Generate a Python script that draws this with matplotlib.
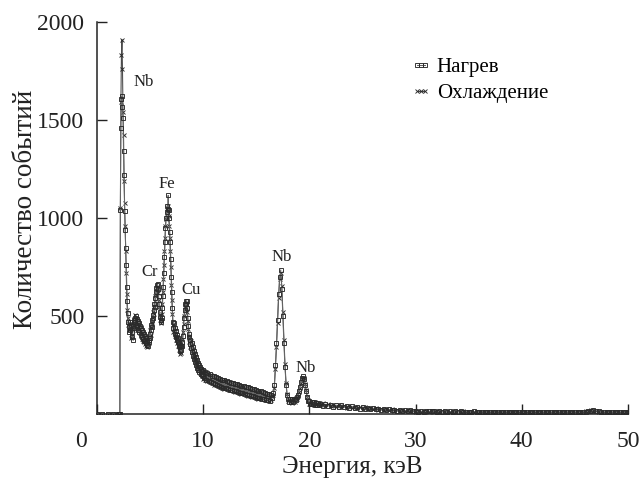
import numpy as np
import matplotlib
matplotlib.use("Agg")
import matplotlib.pyplot as plt
import matplotlib.transforms as mtransforms

plt.rcParams['font.family'] = ['Liberation Serif', 'DejaVu Serif']

# ---------------- data ----------------
series_names = ["Нагрев", "Охлаждение"]

baseline_energy = [0.0, 0.5, 1.0, 1.5, 2.0]
baseline_counts = [0, 0, 0, 0, 0]

# segment A: 2.10 keV, step 0.05 keV
segA_start, segA_step = 2.10, 0.05
heating_A = [
    0, 0, 1040, 1460, 1605, 1620, 1565, 1510, 1340, 1220,
    1035, 940, 845, 760, 650, 575, 515, 470, 445, 420,
    470, 430, 455, 395, 420, 380, 450, 480, 440, 490,
    470, 500, 455, 485, 445, 475, 430, 465, 420, 450,
    405, 440, 395, 430, 385, 420, 375, 410, 370, 400,
    360, 390, 350, 375, 345, 380, 365, 410, 390, 430,
    455, 445, 480, 505, 490, 530, 560, 545, 590, 620,
    645, 660, 665, 640, 600, 560, 520, 495, 480, 470,
    490, 540, 600, 650, 720, 800, 880, 950, 1000, 1030,
    1060, 1045, 1115, 1040, 1000, 930, 880, 790, 700, 620,
    540, 470, 440, 465, 410, 440, 395, 425, 380, 405,
    365, 390, 345, 360, 320, 350, 325, 345, 345, 365,
    400, 445, 490, 530, 560, 575, 560, 578, 540, 490,
    450, 410, 395, 355, 380, 335, 360, 315, 340, 295,
    320, 280, 305, 265, 290, 250, 275, 235, 260, 225,
    248, 215, 238, 205, 228, 198, 218, 192,
]
cooling_A = [
    0, 0, 1050, 1590, 1830, 1910, 1760, 1540, 1425, 1190,
    1075, 960, 830, 720, 610, 530, 490, 455, 430, 460,
    435, 455, 390, 440, 400, 460, 430, 485, 455, 470,
    505, 460, 490, 450, 480, 435, 470, 425, 460, 415,
    445, 400, 425, 385, 415, 375, 405, 365, 395, 355,
    385, 345, 370, 340, 375, 395, 360, 400, 430, 405,
    445, 470, 460, 490, 520, 510, 550, 575, 600, 610,
    635, 650, 640, 615, 580, 545, 505, 480, 465, 480,
    510, 560, 620, 690, 760, 830, 900, 960, 995, 1020,
    1050, 1060, 1040, 1010, 960, 900, 830, 750, 660, 580,
    510, 455, 420, 440, 400, 430, 380, 410, 360, 390,
    345, 375, 325, 355, 305, 340, 310, 345, 350, 380,
    420, 460, 500, 530, 550, 560, 545, 555, 520, 475,
    435, 400, 365, 375, 340, 370, 320, 350, 300, 330,
    285, 310, 270, 295, 255, 280, 242, 268, 230, 255,
    220, 242, 210, 232, 202, 222, 195, 212,
]

# segment B: 10.0 keV, step 0.1 keV
segB_start, segB_step = 10.0, 0.1
heating_B = [
    222, 182, 215, 175, 208, 168, 202, 162, 196, 158,
    192, 152, 187, 148, 182, 143, 178, 139, 174, 135,
    171, 132, 167, 128, 164, 125, 160, 122, 157, 118,
    155, 115, 151, 112, 148, 109, 144, 106, 141, 102,
    139, 99, 136, 96, 132, 93, 129, 90, 126, 86,
    123, 84, 119, 81, 116, 78, 112, 75, 108, 72,
    104, 70, 100, 68, 96, 84, 105, 150, 250, 360,
    480, 610, 700, 735, 640, 500, 360, 240, 150, 95,
    75, 62, 78, 60, 74, 61, 76, 70, 86, 95,
    115, 140, 165, 182, 192, 180, 150, 115, 85, 68,
    64, 52, 62, 49, 59, 47, 58, 46, 56, 45,
]
cooling_B = [
    180, 220, 174, 212, 168, 205, 162, 200, 156, 194,
    150, 190, 146, 185, 141, 180, 137, 176, 133, 172,
    130, 168, 126, 165, 123, 161, 120, 158, 116, 155,
    113, 152, 110, 149, 107, 145, 104, 142, 100, 139,
    97, 136, 94, 133, 91, 129, 88, 126, 85, 122,
    82, 119, 79, 115, 76, 112, 74, 108, 71, 104,
    69, 100, 67, 96, 70, 90, 98, 135, 230, 340,
    465, 590, 690, 720, 655, 520, 380, 255, 160, 100,
    66, 76, 60, 75, 58, 76, 63, 80, 76, 92,
    110, 135, 160, 178, 186, 184, 155, 120, 88, 70,
    52, 63, 50, 60, 48, 59, 46, 57, 45, 55,
]

# segment C: 21.0 keV, step 0.25 keV
segC_start, segC_step = 21.0, 0.25
heating_C = [
    52, 42, 50, 40, 48, 38, 46, 36, 44, 35,
    41, 32, 39, 30, 37, 28, 35, 27, 33, 25,
    30, 23, 28, 21, 26, 19, 24, 18, 22, 16,
    20, 15, 19, 14, 18, 13, 16, 12, 15, 12,
    13, 15, 13, 14, 12, 14, 12, 13, 12, 13,
    11, 13, 12, 16, 12, 11, 12, 11, 13, 11,
    12, 10, 12, 11, 10, 12, 10, 11, 10, 12,
    10, 11, 10, 11, 9, 11, 10, 9, 11, 10,
    9, 11, 10, 9, 10, 9, 11, 9, 10, 9,
    10, 9, 10, 9, 10, 9, 10, 9, 10, 11,
    12, 15, 17, 18, 16, 13, 11, 10, 9, 10,
    9, 10, 9, 10, 9, 10, 9,
]
cooling_C = [
    44, 54, 41, 50, 39, 48, 37, 45, 35, 42,
    33, 40, 31, 38, 29, 36, 27, 34, 26, 31,
    24, 30, 22, 28, 20, 26, 19, 24, 17, 22,
    15, 20, 14, 18, 13, 17, 12, 16, 12, 15,
    14, 12, 14, 12, 13, 11, 13, 12, 12, 11,
    12, 11, 13, 12, 14, 11, 12, 10, 12, 11,
    11, 12, 10, 11, 10, 11, 10, 12, 10, 11,
    10, 10, 11, 9, 10, 10, 9, 11, 10, 9,
    10, 10, 9, 10, 9, 10, 10, 9, 9, 10,
    9, 10, 9, 10, 9, 10, 9, 10, 11, 12,
    13, 16, 18, 17, 15, 12, 10, 9, 10, 9,
    10, 9, 10, 9, 10, 9, 10,
]

peak_labels = ["Nb", "Fe", "Cr", "Cu", "Nb", "Nb"]
peak_label_energy = [4.36, 6.62, 4.99, 8.85, 17.39, 19.68]
peak_label_counts = [1695, 1173, 723, 633, 802, 235]

x_ticks = [0, 10, 20, 30, 40, 50]
y_ticks = [500, 1000, 1500, 2000]


def build(a, b, c):
    e = np.concatenate([
        np.array(baseline_energy),
        segA_start + segA_step * np.arange(len(a)),
        segB_start + segB_step * np.arange(len(b)),
        segC_start + segC_step * np.arange(len(c)),
    ])
    v = np.concatenate([np.array(baseline_counts), a, b, c]).astype(float)
    return e, v


e_h, v_h = build(heating_A, heating_B, heating_C)
e_c, v_c = build(cooling_A, cooling_B, cooling_C)

# ---------------- figure ----------------
fig = plt.figure(figsize=(6.41, 4.80), dpi=100)
ax = fig.add_axes([97 / 641, 66 / 480, 531 / 641, 392 / 480])

ax.plot(e_c, v_c, color='#4a4a4a', lw=0.75, marker='x', ms=3.0, mew=0.65,
        mec='#2a2a2a', label=series_names[1], zorder=2)
ax.plot(e_h, v_h, color='#666666', lw=0.75, marker='s', ms=3.0, mew=0.65,
        mfc='none', mec='#2a2a2a', label=series_names[0], zorder=3)

ax.set_xlim(0, 50)
ax.set_ylim(0, 2000)
ax.set_xticks(x_ticks)
ax.set_yticks(y_ticks)

for s in ['top', 'right']:
    ax.spines[s].set_visible(False)
for s in ['left', 'bottom']:
    ax.spines[s].set_linewidth(1.1)
    ax.spines[s].set_color('#222222')

ax.tick_params(axis='both', direction='in', length=7, width=1.0,
               labelsize=17, colors='#222222')
ax.tick_params(axis='x', pad=12)
ax.tick_params(axis='y', pad=9)

# shift the "0" label to the left as in the reference
offset = mtransforms.ScaledTranslation(-0.16, 0, fig.dpi_scale_trans)
lbl0 = ax.get_xticklabels()[0]
lbl0.set_transform(lbl0.get_transform() + offset)

ax.set_xlabel("Энергия, кэВ", fontsize=18, color='#222222')
ax.set_ylabel("Количество событий", fontsize=19.5, color='#222222')
ax.xaxis.set_label_coords((352 - 97) / 531, -(456 - 414) / 392)
ax.yaxis.set_label_coords(-(97 - 38) / 531, (414 - 209) / 392)

for t, x, y in zip(peak_labels, peak_label_energy, peak_label_counts):
    ax.text(x, y, t, fontsize=12, ha='center', va='center', color='#222222')

handles, labels = ax.get_legend_handles_labels()
leg = ax.legend(handles[::-1], labels[::-1], loc='upper left',
                bbox_to_anchor=(0.575, 0.93), frameon=False, fontsize=15,
                numpoints=3, handlelength=1.0, handletextpad=0.25,
                labelspacing=0.3, borderaxespad=0)

fig.savefig("out.png", dpi=100)
